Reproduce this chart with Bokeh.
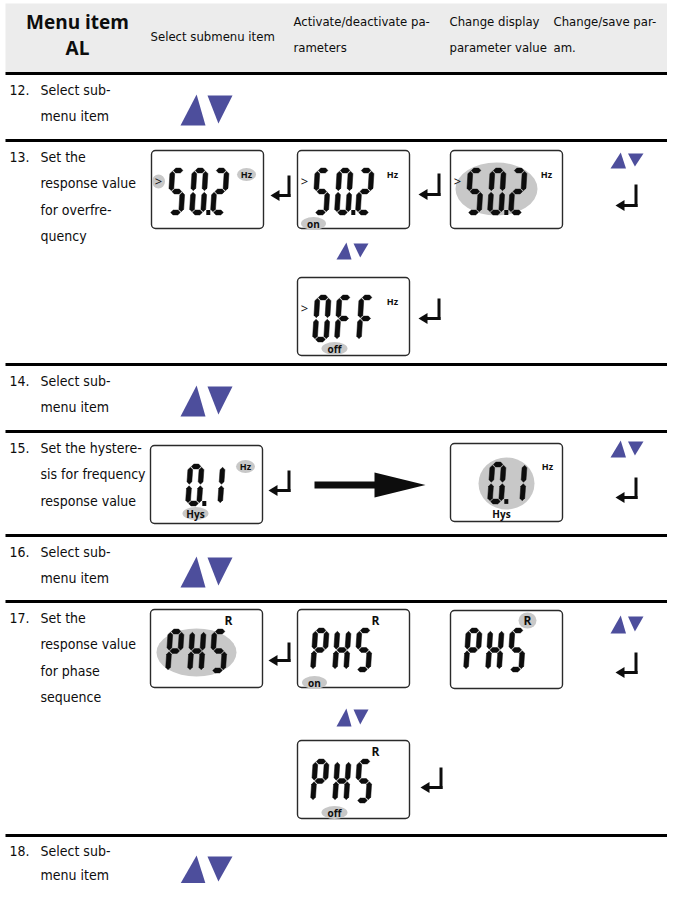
from bokeh.plotting import figure
from bokeh.models import Range1d
from bokeh.core.properties import value
from bokeh.embed import file_html
from bokeh.resources import INLINE

# ---------------- data (texts and readings) ----------------
header_title = ["Menu item", "AL"]
col_titles = [["Select submenu item"],
              ["Activate/deactivate pa-", "rameters"],
              ["Change display", "parameter value"],
              ["Change/save par-", "am."]]
step_numbers = ["12.", "13.", "14.", "15.", "16.", "17.", "18."]
step_texts = [["Select sub-", "menu item"],
              ["Set the", "response value", "for overfre-", "quency"],
              ["Select sub-", "menu item"],
              ["Set the hystere-", "sis for frequency", "response value"],
              ["Select sub-", "menu item"],
              ["Set the", "response value", "for phase", "sequence"],
              ["Select sub-", "menu item"]]
lcd_values = ["50.2", "50.2", "50.2", "OFF", "0.1", "0.1", "PHS", "PHS", "PHS", "PHS"]
lcd_units = ["Hz", "Hz", "Hz", "Hz", "Hz", "Hz", "R", "R", "R", "R"]
lcd_status = ["", "on", "", "off", "Hys", "Hys", "", "on", "", "off"]
lcd_prompt = [True, True, True, True, False, False, False, False, False, False]
lcd_highlight = [["prompt", "unit"], ["status"], ["value"], ["status"], ["unit", "status"],
                 ["value"], ["value"], ["status"], ["unit"], ["status"]]

# ---------------- layout (positions / styles) ----------------
W, H = 667, 883
FONT = value("DejaVu Sans Condensed, Roboto")
BOLD = value("Open Sans")
GRAY = "#c8c8c8"
BLUE = "#4d4e9c"
INK = "#0d0d0d"

sep_y = [73, 140, 364, 431, 535, 601, 835]
row_text_start = [16, 16, 16, 16, 16, 16, 15]
row_text_pitch = [26.5, 26.5, 26.5, 26.5, 26.5, 26.5, 24]
big_pairs = [(180, 94, 52, 31), (180, 385, 52, 31), (180, 556, 52, 31), (180, 855, 52, 28)]
box_pos = [(151, 150), (297, 150), (450, 150), (297, 277), (150, 445), (450, 443),
           (150, 609), (297, 609), (450, 610), (297, 740)]
BW, BH = 112, 78
digit_dx = [16, 15, 15, 15, 35, 37, 15, 13, 13, 13]
digit_dy = [20, 20, 20, 20, 21, 21, 22, 21, 20, 21]
digit_h = [42, 42, 42, 42, 37, 37, 39, 39, 39, 39]
unit_off = [(95, 24), (95, 24), (96, 24), (95, 24), (95, 21), (97, 23),
            (78, 11), (78, 11), (77, 10), (78, 11)]
status_off = [(0, 0), (16, 73), (0, 0), (37, 71), (45, 68), (51, 70),
              (0, 0), (17, 73), (0, 0), (37, 72)]
value_ell = [None, None, (46, 38.5, 82, 53), None, None, (56, 40, 56, 52),
             (46, 43, 80, 48), None, None, None]
ret_arrows = [(270, 175, 20, 25), (418, 173, 22, 26), (615, 184, 22, 26), (418, 298, 22, 25),
              (268, 470, 22, 25), (615, 477, 22, 25), (268, 642, 22, 23), (615, 652, 22, 25),
              (420, 767, 22, 25)]
small_pairs = [(610, 152, 33, 16), (336, 242, 32, 17), (610, 440, 33, 17),
               (610, 615, 33, 18), (336, 708, 32, 18)]

SEGS = {"0": "abcdef", "1": "bc", "2": "abged", "5": "afgcd", "O": "abcdef",
        "F": "afge", "P": "abfge", "H": "fbgec", "S": "afgcd"}

p = figure(width=W, height=H, x_range=Range1d(0, W), y_range=Range1d(H, 0),
           output_backend="svg", toolbar_location=None, min_border=0,
           x_axis_location=None, y_axis_location=None)
p.grid.visible = False
p.outline_line_color = None
p.background_fill_color = "white"
p.border_fill_color = "white"

# header
p.quad(left=[5], right=[683], top=[3], bottom=[72], fill_color="#ececec", line_color=None)
p.text(x=[77, 77], y=[21, 47], text=header_title, text_font=BOLD, text_font_style="bold",
       text_font_size="19px", text_align="center", text_baseline="middle", text_color=INK)
col_x = [150, 293, 449, 553]
hx, hy, ht = [], [], []
for cx, lines in zip(col_x, col_titles):
    ys = [36] if len(lines) == 1 else [21, 47]
    for yy, t in zip(ys, lines):
        hx.append(cx); hy.append(yy); ht.append(t)
p.text(x=hx, y=hy, text=ht, text_font=FONT, text_font_size="13px", text_align="left",
       text_baseline="middle", text_color=INK)

# separators
p.multi_line(xs=[[5, 683] for _ in sep_y], ys=[[y, y] for y in sep_y], line_color="black", line_width=3)

# step labels
nx, ny, nt, dx_, dy_, dt = [], [], [], [], [], []
for top, st, pitch, num, lines in zip(sep_y, row_text_start, row_text_pitch, step_numbers, step_texts):
    nx.append(9); ny.append(top + st); nt.append(num)
    for i, t in enumerate(lines):
        dx_.append(40); dy_.append(top + st + pitch * i); dt.append(t)
p.text(x=nx, y=ny, text=nt, text_font=FONT, text_font_size="14px", text_baseline="middle", text_color=INK)
p.text(x=dx_, y=dy_, text=dt, text_font=FONT, text_font_size="14px", text_baseline="middle", text_color=INK)

# triangle pairs (up / down keys)
def tri_pair(x, y, w, h):
    hw = w / 2.0
    up = ([x, x + hw - 1, x + hw * 0.62], [y + h, y + h, y])
    dn = ([x + hw + 1, x + w, x + hw + 1 + hw * 0.42], [y + 1, y + 1, y + h - 2])
    return [up, dn]
txs, tys = [], []
for (x, y, w, h) in big_pairs + small_pairs:
    for tx, ty in tri_pair(x, y, w, h):
        txs.append(tx); tys.append(ty)
p.patches(xs=txs, ys=tys, fill_color=BLUE, line_color=None)

# LCD boxes and grey highlights
gx, gy, gw, gh = [], [], [], []
for i, (x0, y0) in enumerate(box_pos):
    if value_ell[i]:
        ex, ey, ew, eh = value_ell[i]
        gx.append(x0 + ex); gy.append(y0 + ey); gw.append(ew); gh.append(eh)
    if "prompt" in lcd_highlight[i]:
        gx.append(x0 + 7); gy.append(y0 + 31); gw.append(13); gh.append(14)
    if "unit" in lcd_highlight[i]:
        ux, uy = unit_off[i]
        gx.append(x0 + ux); gy.append(y0 + uy)
        gw.append(19 if lcd_units[i] == "Hz" else 18); gh.append(13 if lcd_units[i] == "Hz" else 16)
    if "status" in lcd_highlight[i]:
        sx, sy = status_off[i]
        gx.append(x0 + sx); gy.append(y0 + sy); gw.append(26 if lcd_status[i] != "on" else 25); gh.append(13)
p.quad(left=[b[0] for b in box_pos], right=[b[0] + BW for b in box_pos],
       top=[b[1] for b in box_pos], bottom=[b[1] + BH for b in box_pos],
       fill_color="white", line_color="#2a2a2a", line_width=1.4, border_radius=4)
p.ellipse(x=gx, y=gy, width=gw, height=gh, fill_color=GRAY, line_color=None)

# seven segment digits drawn as tapered segments
CW, PITCH, T, G, SK = 11.2, 22, 4.8, 0.8, 2.6
seg_xs, seg_ys, dpl, dpr, dpt, dpb = [], [], [], [], [], []
def seg_poly(seg, cx, cy, ch):
    mid = cy + ch / 2.0
    t = T / 2.0
    def hor(x1, x2, y):
        return [(x1, y), (x1 + t, y - t), (x2 - t, y - t), (x2, y), (x2 - t, y + t), (x1 + t, y + t)]
    def ver(x, y1, y2):
        return [(x, y1), (x + t, y1 + t), (x + t, y2 - t), (x, y2), (x - t, y2 - t), (x - t, y1 + t)]
    pts = {"a": hor(cx + G, cx + CW - G, cy),
           "b": ver(cx + CW, cy + G, mid - G),
           "c": ver(cx + CW, mid + G, cy + ch - G),
           "d": hor(cx + G, cx + CW - G, cy + ch),
           "e": ver(cx, mid + G, cy + ch - G),
           "f": ver(cx, cy + G, mid - G),
           "g": hor(cx + G, cx + CW - G, mid)}[seg]
    xs = [px + SK * (cy + ch - py) / ch for px, py in pts]
    ys = [py for px, py in pts]
    return xs, ys
for i, (x0, y0) in enumerate(box_pos):
    cx = x0 + digit_dx[i] + T / 2.0
    cy = y0 + digit_dy[i]
    ch = digit_h[i]
    prev = None
    for c in lcd_values[i]:
        if c == ".":
            dpl.append(prev + CW + T / 2.0 + 0.8); dpr.append(prev + CW + T / 2.0 + 4.8)
            dpt.append(cy + ch - 2.4); dpb.append(cy + ch + 2.4)
            cx -= 1
            continue
        for s in SEGS[c]:
            a, b = seg_poly(s, cx, cy, ch)
            seg_xs.append(a); seg_ys.append(b)
        prev = cx
        cx += PITCH
p.patches(xs=seg_xs, ys=seg_ys, fill_color=INK, line_color=INK, line_width=0.5)
p.quad(left=dpl, right=dpr, top=dpt, bottom=dpb, fill_color=INK, line_color=None)

# prompts, units, status labels
px_, py_ = [], []
for i, (x0, y0) in enumerate(box_pos):
    if lcd_prompt[i]:
        px_.append(x0 + 7); py_.append(y0 + 30)
p.text(x=px_, y=py_, text=[">"] * len(px_), text_font=BOLD, text_font_size="13px",
       text_align="center", text_baseline="middle", text_color=INK)
ux_, uy_, ut_, ufs = [], [], [], []
for i, (x0, y0) in enumerate(box_pos):
    ux, uy = unit_off[i]
    ux_.append(x0 + ux); uy_.append(y0 + uy); ut_.append(lcd_units[i])
    ufs.append("9px" if lcd_units[i] == "Hz" else "12px")
p.text(x=ux_, y=uy_, text=ut_, text_font=BOLD, text_font_style="bold", text_font_size=ufs,
       text_align="center", text_baseline="middle", text_color=INK)
sx_, sy_, st_ = [], [], []
for i, (x0, y0) in enumerate(box_pos):
    if lcd_status[i]:
        sx, sy = status_off[i]
        sx_.append(x0 + sx); sy_.append(y0 + sy); st_.append(lcd_status[i])
p.text(x=sx_, y=sy_, text=st_, text_font=BOLD, text_font_style="bold", text_font_size="10px",
       text_align="center", text_baseline="middle", text_color=INK)

# return (enter) arrows
rxs, rys, hxs, hys = [], [], [], []
for (x, y, w, h) in ret_arrows:
    yb = y + h - 5
    rxs.append([x + w - 1.5, x + w - 1.5]); rys.append([y, yb + 1.5])
    rxs.append([x + 8, x + w]); rys.append([yb, yb])
    hxs.append([x, x + 9, x + 9]); hys.append([yb, yb - 5.5, yb + 5.5])
p.multi_line(xs=rxs, ys=rys, line_color=INK, line_width=3)
p.patches(xs=hxs, ys=hys, fill_color=INK, line_color=None)

# big arrow (row 15)
p.quad(left=[314], right=[376], top=[481], bottom=[488], fill_color=INK, line_color=None)
p.patches(xs=[[374, 425, 374]], ys=[[472, 484.5, 497]], fill_color=INK, line_color=None)

open("out.html", "w").write(file_html(p, INLINE))
